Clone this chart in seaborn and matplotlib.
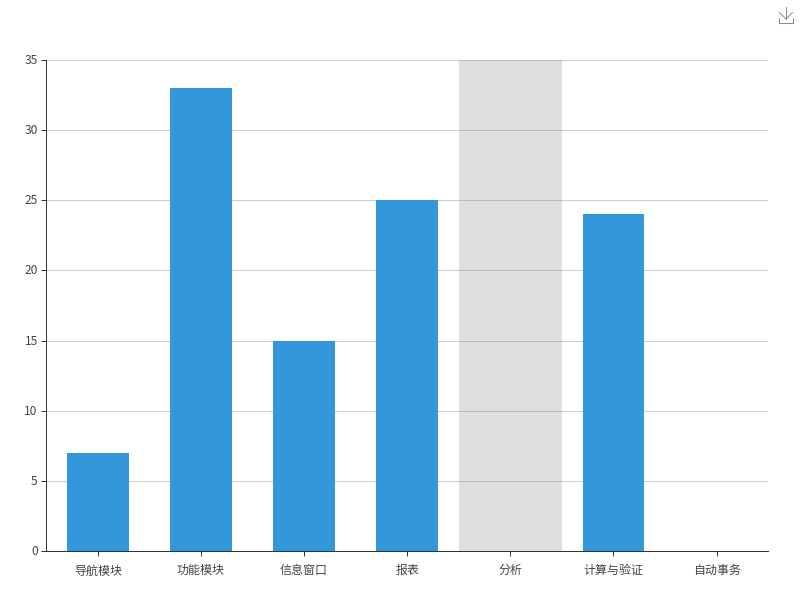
import matplotlib
matplotlib.use("Agg")
import matplotlib.pyplot as plt
from matplotlib.lines import Line2D
from matplotlib.transforms import ScaledTranslation
import pandas as pd
import seaborn as sns

categories = ["导航模块", "功能模块", "信息窗口", "报表", "分析", "计算与验证", "自动事务"]
values = [7, 33, 15, 25, 0, 24, 0]
highlighted = "分析"
y_ticks = [0, 5, 10, 15, 20, 25, 30, 35]

sns.set_theme(style="white")
plt.rcParams["font.family"] = ["Noto Sans CJK SC", "DejaVu Sans"]

W, H = 800, 600
fig = plt.figure(figsize=(8, 6), dpi=100, facecolor="white")
ax = fig.add_axes([46.2 / W, 1 - 551 / H, 722 / W, 491 / H])

df = pd.DataFrame({"category": categories, "value": values})
sns.barplot(data=df, x="category", y="value", color="#3398DB", saturation=1,
            width=0.6, linewidth=0, ax=ax, zorder=3)

ax.set_xlim(-0.5, len(categories) - 0.5)
ax.set_ylim(0, 35)
ax.set_yticks(y_ticks)
ax.set_xlabel("")
ax.set_ylabel("")
ax.yaxis.grid(True, color="#cccccc", linewidth=0.72)
ax.xaxis.grid(False)
ax.set_axisbelow(True)

# hover shadow over the highlighted category
i = categories.index(highlighted)
ax.axvspan(i - 0.5, i + 0.5, facecolor=(150 / 255, 150 / 255, 150 / 255, 0.3),
           edgecolor="none", zorder=2)

for s in ("top", "right"):
    ax.spines[s].set_visible(False)
for s in ("left", "bottom"):
    ax.spines[s].set_color("#333333")
    ax.spines[s].set_linewidth(0.72)
    ax.spines[s].set_zorder(5)

ax.tick_params(axis="both", which="major", length=3.6, width=0.72, color="#333333",
               labelcolor="#444444", labelsize=8.64, left=True, bottom=True)
ax.tick_params(axis="x", pad=6)
ax.tick_params(axis="y", pad=2.5)

# nudge the y labels up one pixel, as in the reference
shift = ScaledTranslation(0, 1 / 100, fig.dpi_scale_trans)
for label in ax.get_yticklabels():
    label.set_transform(label.get_transform() + shift)

# toolbox "save" icon, figure pixel coordinates
def px_line(xs, ys):
    fig.add_artist(Line2D([x / W for x in xs], [1 - y / H for y in ys],
                          transform=fig.transFigure, color="#8c8c8c", linewidth=0.75))

px_line([786, 786], [7, 19])
px_line([779.5, 786, 792.5], [12.5, 19, 12.5])
px_line([779, 779, 793, 793], [18, 22.5, 22.5, 18])

fig.savefig("out.png", dpi=100)
